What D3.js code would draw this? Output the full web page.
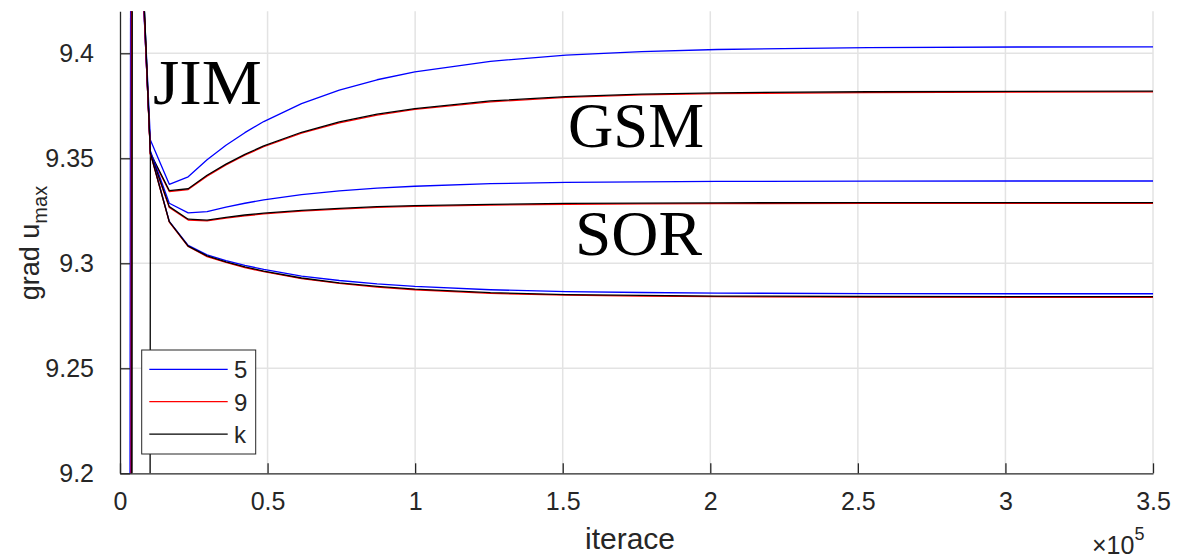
<!DOCTYPE html>
<html>
<head>
<meta charset="utf-8">
<script src="https://cdn.jsdelivr.net/npm/d3@7"></script>
<style>
  html, body { margin: 0; padding: 0; background: #fff; }
  svg { display: block; }
</style>
</head>
<body>
<svg id="chart" width="1181" height="558"></svg>
<script>
// Iteration counts at which grad u_max was recorded
const iterations = [0, 3900, 10300, 16700, 23100, 29500, 35900, 42300, 48700,
  61500, 74300, 87100, 99900, 125500, 151100, 176700, 202300, 253500, 304700, 350000];
// the very first recorded iteration differs slightly per stencil (5 / 9 / k)
const firstIterations = [3650, 3900, 4150];

// JIM – stencil 5 / 9 / k
const jim5 = [0, 9.560, 9.3587, 9.3376, 9.3412, 9.3493, 9.3562, 9.3622, 9.3675,
  9.3760, 9.3825, 9.3874, 9.3912, 9.3962, 9.3991, 9.4008, 9.4018, 9.4027, 9.4030, 9.4031];
const jim9 = [0, 9.557, 9.3520, 9.3342, 9.3351, 9.3415, 9.3468, 9.3515, 9.3555,
  9.3620, 9.3669, 9.3706, 9.3733, 9.3769, 9.3790, 9.3802, 9.3808, 9.3813, 9.3815, 9.3816];
const jimK = [0, 0, 9.3525, 9.3346, 9.3355, 9.3419, 9.3472, 9.3519, 9.3559,
  9.3624, 9.3673, 9.3710, 9.3737, 9.3773, 9.3794, 9.3806, 9.3812, 9.3817, 9.3819, 9.3820];

// GSM – stencil 5 / 9 / k
const gsm5 = [0, 9.556, 9.3535, 9.3286, 9.3240, 9.3246, 9.3268, 9.3286, 9.3302,
  9.3327, 9.3345, 9.3358, 9.3367, 9.3379, 9.3385, 9.3388, 9.3390, 9.3391, 9.3392, 9.3392];
const gsm9 = [0, 9.555, 9.3520, 9.3266, 9.3206, 9.3202, 9.3215, 9.3226, 9.3235,
  9.3248, 9.3258, 9.3266, 9.3271, 9.3277, 9.3281, 9.3283, 9.3284, 9.3285, 9.3285, 9.3285];
const gsmK = [0, 9.556, 9.3525, 9.3270, 9.3210, 9.3206, 9.3219, 9.3230, 9.3239,
  9.3252, 9.3262, 9.3270, 9.3275, 9.3281, 9.3285, 9.3287, 9.3288, 9.3289, 9.3289, 9.3289];

// SOR – stencil 5 / 9 / k
const sor5 = [0, 9.558, 9.3530, 9.3200, 9.3085, 9.3040, 9.3013, 9.2990, 9.2971,
  9.2939, 9.2918, 9.2902, 9.2890, 9.2874, 9.2865, 9.2861, 9.2858, 9.2856, 9.2855, 9.2855];
const sor9 = [0, 9.557, 9.3522, 9.3196, 9.3080, 9.3032, 9.3004, 9.2980, 9.2960,
  9.2927, 9.2904, 9.2887, 9.2874, 9.2857, 9.2848, 9.2844, 9.2841, 9.2839, 9.2838, 9.2838];
const sorK = [0, 9.559, 9.3525, 9.3198, 9.3082, 9.3035, 9.3007, 9.2983, 9.2963,
  9.2930, 9.2907, 9.2890, 9.2877, 9.2860, 9.2851, 9.2847, 9.2844, 9.2842, 9.2841, 9.2841];

const legendLabels = ["5", "9", "k"];
const seriesColors = ["#0000ff", "#ff0000", "#000000"];
const xTicks = [0, 50000, 100000, 150000, 200000, 250000, 300000, 350000];
const xTickLabels = ["0", "0.5", "1", "1.5", "2", "2.5", "3", "3.5"];
const yTicks = [9.2, 9.25, 9.3, 9.35, 9.4];
const yTickLabels = ["9.2", "9.25", "9.3", "9.35", "9.4"];
const methodLabels = ["JIM", "GSM", "SOR"];

const groups = [
  [jim5, jim9, jimK],
  [gsm5, gsm9, gsmK],
  [sor5, sor9, sorK]
];

const sans = "'Liberation Sans', Arial, Helvetica, sans-serif";
const serif = "'Liberation Serif', 'Times New Roman', serif";

const svg = d3.select("#chart");
const plotLeft = 120, plotRight = 1153, plotTop = 11.3, plotBottom = 473.3;
const axisColor = "#262626";

const x = d3.scaleLinear().domain([0, 350000]).range([plotLeft, plotRight]);
const y = d3.scaleLinear().domain([9.2, 9.42]).range([plotBottom, plotTop]);

// grid
const grid = svg.append("g").attr("stroke", "#e3e3e3").attr("stroke-width", 1.5);
grid.selectAll("line.gx").data(xTicks.slice(1)).join("line")
  .attr("x1", d => x(d)).attr("x2", d => x(d))
  .attr("y1", plotTop).attr("y2", plotBottom);
grid.selectAll("line.gy").data(yTicks.slice(1)).join("line")
  .attr("x1", plotLeft).attr("x2", plotRight)
  .attr("y1", d => y(d)).attr("y2", d => y(d));

// clip region for the curves
svg.append("defs").append("clipPath").attr("id", "plotClip")
  .append("rect").attr("x", plotLeft).attr("y", plotTop)
  .attr("width", plotRight - plotLeft).attr("height", plotBottom - plotTop);

const curves = svg.append("g").attr("clip-path", "url(#plotClip)");
groups.forEach(g => {
  g.forEach((vals, k) => {
    const iters = iterations.map((it, i) => i === 1 ? firstIterations[k] : it);
    const line = d3.line()
      .x((d, i) => x(iters[i]))
      .y(d => y(d));
    curves.append("path")
      .datum(vals)
      .attr("d", line)
      .attr("fill", "none")
      .attr("stroke", seriesColors[k])
      .attr("stroke-width", 1.3)
      .attr("stroke-linejoin", "round");
  });
});

// axes (ticks pointing inward)
const xAxis = d3.axisBottom(x).tickValues(xTicks)
  .tickFormat((d, i) => xTickLabels[i]).tickSizeInner(-10).tickSizeOuter(0).tickPadding(19);
const gx = svg.append("g").attr("transform", `translate(0,${plotBottom})`).call(xAxis);
gx.select(".domain").attr("stroke", axisColor).attr("stroke-width", 1.3);
gx.selectAll(".tick line").attr("stroke", axisColor).attr("stroke-width", 1.3);
gx.selectAll(".tick text").attr("fill", axisColor)
  .style("font-size", "25px").style("font-family", sans);

const yAxis = d3.axisLeft(y).tickValues(yTicks)
  .tickFormat((d, i) => yTickLabels[i]).tickSizeInner(-10).tickSizeOuter(0).tickPadding(26);
const gy = svg.append("g").attr("transform", `translate(${plotLeft},0)`).call(yAxis);
gy.select(".domain").attr("stroke", axisColor).attr("stroke-width", 1.3);
gy.selectAll(".tick line").attr("stroke", axisColor).attr("stroke-width", 1.3);
gy.selectAll(".tick text").attr("fill", axisColor)
  .style("font-size", "25px").style("font-family", sans);

// axis titles
svg.append("text")
  .attr("x", 630).attr("y", 549)
  .attr("text-anchor", "middle").attr("fill", axisColor)
  .style("font-size", "30px").style("font-family", sans)
  .text("iterace");

const yl = svg.append("text")
  .attr("transform", "translate(39,243) rotate(-90)")
  .attr("text-anchor", "middle").attr("fill", axisColor)
  .style("font-size", "27px").style("font-family", sans);
yl.append("tspan").text("grad u");
yl.append("tspan").style("font-size", "20px").attr("dy", 8).text("max");

// exponent of the x axis
const ex = svg.append("text").attr("x", 1092).attr("y", 554)
  .attr("fill", axisColor).style("font-size", "25px").style("font-family", sans);
ex.append("tspan").text("×10");
ex.append("tspan").style("font-size", "18px").attr("dy", -14).text("5");

// method labels
const methodPos = [[153, 104, 109], [568, 147, 136], [575, 255, 127]];
methodLabels.forEach((t, i) => {
  svg.append("text")
    .attr("x", methodPos[i][0]).attr("y", methodPos[i][1])
    .attr("fill", "#000")
    .style("font-family", serif).style("font-size", "63px")
    .attr("textLength", methodPos[i][2]).attr("lengthAdjust", "spacingAndGlyphs")
    .text(t);
});

// legend
const lg = svg.append("g");
lg.append("rect").attr("x", 141.7).attr("y", 350).attr("width", 114).attr("height", 104)
  .attr("fill", "#fff").attr("stroke", "#262626").attr("stroke-width", 1);
legendLabels.forEach((t, i) => {
  const ly = 369.3 + i * 32.4;
  lg.append("line").attr("x1", 149.3).attr("x2", 227.7).attr("y1", ly).attr("y2", ly)
    .attr("stroke", seriesColors[i]).attr("stroke-width", 1.3);
  lg.append("text").attr("x", 234).attr("y", ly + 9).attr("fill", axisColor)
    .style("font-size", "24px").style("font-family", sans).text(t);
});
</script>
</body>
</html>
